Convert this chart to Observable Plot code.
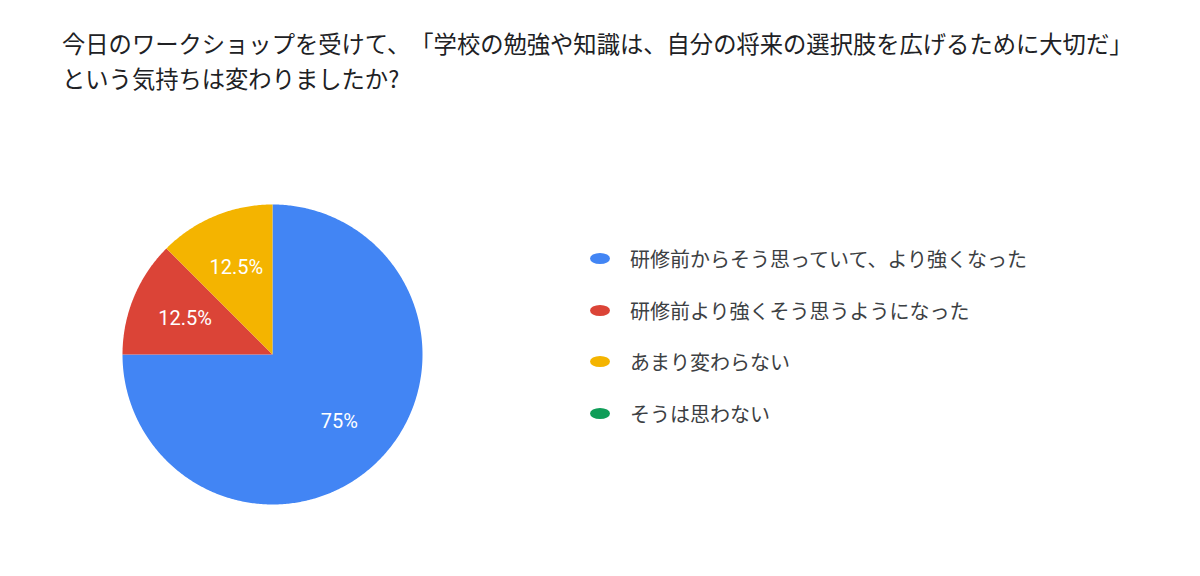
<!DOCTYPE html>
<html>
<head>
<meta charset="utf-8">
<script src="https://cdn.jsdelivr.net/npm/d3@7"></script>
<script src="https://cdn.jsdelivr.net/npm/@observablehq/plot@0.6"></script>
<style>
  html, body { margin: 0; padding: 0; background: #fff; width: 1200px; height: 576px; overflow: hidden; }
  body { position: relative; font-family: "Noto Sans CJK JP", "Noto Sans", Roboto, sans-serif; text-spacing-trim: space-all; }
  #title { position: absolute; left: 62px; top: 26px; font-size: 23.3px; line-height: 35px; color: #202124; white-space: nowrap; text-spacing-trim: space-all; }
  #chart { position: absolute; left: 101.5px; top: 183.5px; }
  #legend { position: absolute; left: 590px; top: 233px; }
  .row { display: flex; align-items: center; height: 51.5px; font-size: 20px; color: #3c4043; }
  .sw { width: 20px; height: 11px; border-radius: 50%; margin-right: 20px; }
</style>
</head>
<body>
<div id="title"></div>
<div id="chart"></div>
<div id="legend"></div>
<script>
const titleLines = [
  "今日のワークショップを受けて、「学校の勉強や知識は、自分の将来の選択肢を広げるために大切だ」",
  "という気持ちは変わりましたか?"
];
const categories = [
  "研修前からそう思っていて、より強くなった",
  "研修前より強くそう思うようになった",
  "あまり変わらない",
  "そうは思わない"
];
const values = [75, 12.5, 12.5, 0];
const colors = ["#4285F4", "#DB4437", "#F4B400", "#0F9D58"];

document.getElementById("title").innerHTML = titleLines.join("<br>");

const data = categories.map((c, i) => ({category: c, value: values[i]}));
const arcs = d3.pie().sort(null).value(d => d.value).startAngle(0).endAngle(2 * Math.PI)(data);

// slice outlines as polygons in unit coordinates (angle measured clockwise from 12 o'clock)
const pts = [];
for (const a of arcs) {
  if (a.endAngle - a.startAngle <= 0) continue;
  const c = a.data.category;
  pts.push({category: c, x: 0, y: 0});
  const n = Math.max(2, Math.ceil((a.endAngle - a.startAngle) / 0.01));
  for (let k = 0; k <= n; k++) {
    const t = a.startAngle + (a.endAngle - a.startAngle) * k / n;
    pts.push({category: c, x: Math.sin(t), y: Math.cos(t)});
  }
  pts.push({category: c, x: 0, y: 0});
}
const total = d3.sum(values);
const labelR = 0.63;
const labels = arcs.filter(a => a.data.value > 0).map(a => {
  const m = (a.startAngle + a.endAngle) / 2;
  return {x: labelR * Math.sin(m), y: labelR * Math.cos(m), text: `${+(a.data.value / total * 100).toFixed(1)}%`};
});

const plot = Plot.plot({
  width: 340,
  height: 340,
  margin: 20,
  x: {domain: [-1, 1], axis: null},
  y: {domain: [-1, 1], axis: null},
  color: {domain: categories, range: colors},
  style: {background: "transparent", fontFamily: "Roboto, 'Noto Sans', sans-serif"},
  marks: [
    Plot.line(pts, {x: "x", y: "y", z: "category", fill: "category", stroke: null, curve: "linear-closed"}),
    Plot.text(labels, {x: "x", y: "y", text: "text", fill: "white", fontSize: 20})
  ]
});
document.getElementById("chart").appendChild(plot);

const legend = document.getElementById("legend");
categories.forEach((c, i) => {
  const row = document.createElement("div");
  row.className = "row";
  const sw = document.createElement("span");
  sw.className = "sw";
  sw.style.background = colors[i];
  const tx = document.createElement("span");
  tx.textContent = c;
  row.appendChild(sw);
  row.appendChild(tx);
  legend.appendChild(row);
});
</script>
</body>
</html>
